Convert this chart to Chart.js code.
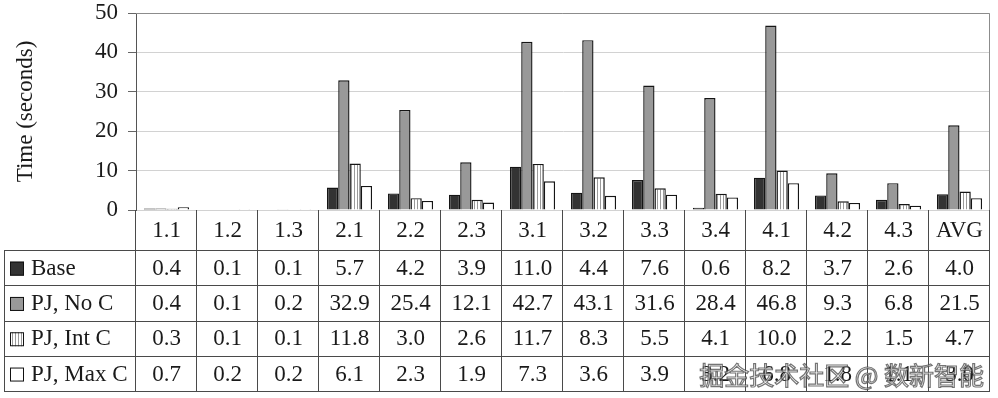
<!DOCTYPE html>
<html>
<head>
<meta charset="utf-8">
<script src="https://cdn.jsdelivr.net/npm/chart.js@4/dist/chart.umd.min.js"></script>
<style>
  html, body { margin: 0; padding: 0; background: #fff; }
  #wrap { width: 998px; height: 398px; position: relative; }
</style>
</head>
<body>
<div id="wrap"><canvas id="chart" width="998" height="398"></canvas></div>
<script>
// categories and series values (seconds)
const categories = ['1.1', '1.2', '1.3', '2.1', '2.2', '2.3', '3.1', '3.2', '3.3', '3.4', '4.1', '4.2', '4.3', 'AVG'];
const seriesNames = ['Base', 'PJ, No C', 'PJ, Int C', 'PJ, Max C'];
const baseTimes = [0.4, 0.1, 0.1, 5.7, 4.2, 3.9, 11.0, 4.4, 7.6, 0.6, 8.2, 3.7, 2.6, 4.0];
const noCTimes = [0.4, 0.1, 0.2, 32.9, 25.4, 12.1, 42.7, 43.1, 31.6, 28.4, 46.8, 9.3, 6.8, 21.5];
const intCTimes = [0.3, 0.1, 0.1, 11.8, 3.0, 2.6, 11.7, 8.3, 5.5, 4.1, 10.0, 2.2, 1.5, 4.7];
const maxCTimes = [0.7, 0.2, 0.2, 6.1, 2.3, 1.9, 7.3, 3.6, 3.9, 3.2, 6.8, 1.8, 1.1, 3.0];
const yTicks = [0, 10, 20, 30, 40, 50];

const SERIF = '"Liberation Serif", "Times New Roman", serif';
const TEXT = '#1a1a1a';

// vertical stripe pattern for "Int C"
function stripePattern() {
    const c = document.createElement('canvas');
    c.width = 3; c.height = 4;
    const g = c.getContext('2d');
    g.fillStyle = '#ffffff';
    g.fillRect(0, 0, 3, 4);
    g.fillStyle = '#9a9a9a';
    g.fillRect(0, 0, 1, 4);
    return g.createPattern(c, 'repeat');
}

const fills = ['#333333', '#999999', stripePattern(), '#ffffff'];
const allSeries = [baseTimes, noCTimes, intCTimes, maxCTimes];

// table geometry below the plot
const CAT_ROW_H = 40;
const DATA_ROW_H = 35.3;
const TABLE_LEFT = 4;

const tablePlugin = {
    id: 'dataTable',
    afterDraw(chart) {
        const ctx = chart.ctx;
        const a = chart.chartArea;
        const x = chart.scales.x;
        const n = categories.length;
        const colW = (a.right - a.left) / n;
        const top = a.bottom;
        const dataTop = top + CAT_ROW_H;
        const bottom = dataTop + DATA_ROW_H * seriesNames.length;

        ctx.save();
        // plot frame (top and right)
        ctx.strokeStyle = '#8c8c8c';
        ctx.lineWidth = 1;
        ctx.beginPath();
        ctx.moveTo(a.left, a.top + 0.5);
        ctx.lineTo(a.right - 0.5, a.top + 0.5);
        ctx.lineTo(a.right - 0.5, a.bottom);
        ctx.stroke();

        // table lines
        ctx.strokeStyle = '#4a4a4a';
        ctx.beginPath();
        for (let i = 0; i <= n; i++) {
            const px = Math.round(a.left + i * colW) - 0.5;
            ctx.moveTo(px, top);
            ctx.lineTo(px, bottom);
        }
        for (let r = 0; r <= seriesNames.length; r++) {
            const py = Math.round(dataTop + r * DATA_ROW_H) + 0.5;
            ctx.moveTo(TABLE_LEFT, py);
            ctx.lineTo(a.right, py);
        }
        ctx.moveTo(TABLE_LEFT + 0.5, dataTop);
        ctx.lineTo(TABLE_LEFT + 0.5, bottom);
        ctx.stroke();

        // category labels
        ctx.fillStyle = TEXT;
        ctx.font = '23px ' + SERIF;
        ctx.textAlign = 'center';
        ctx.textBaseline = 'middle';
        categories.forEach((c, i) => {
            ctx.fillText(c, x.getPixelForValue(i), top + CAT_ROW_H / 2 + 1);
        });

        // data rows with legend keys
        seriesNames.forEach((name, r) => {
            const cy = dataTop + r * DATA_ROW_H + DATA_ROW_H / 2 + 1;
            ctx.fillStyle = fills[r];
            ctx.fillRect(TABLE_LEFT + 6, cy - 7, 14, 14);
            ctx.strokeStyle = '#111';
            ctx.lineWidth = 1;
            ctx.strokeRect(TABLE_LEFT + 6.5, cy - 6.5, 13, 13);
            ctx.fillStyle = TEXT;
            ctx.textAlign = 'left';
            ctx.fillText(name, TABLE_LEFT + 27, cy);
            ctx.textAlign = 'center';
            allSeries[r].forEach((v, i) => {
                ctx.fillText(v.toFixed(1), x.getPixelForValue(i), cy);
            });
        });

        // watermark
        ctx.font = '25px "Noto Sans CJK SC", sans-serif';
        ctx.textAlign = 'right';
        ctx.textBaseline = 'middle';
        ctx.lineWidth = 1.2;
        ctx.strokeStyle = 'rgba(70,70,70,0.75)';
        ctx.fillStyle = 'rgba(255,255,255,0.6)';
        ctx.fillText('掘金技术社区 @ 数新智能', 984, 375);
        ctx.strokeText('掘金技术社区 @ 数新智能', 984, 375);
        ctx.restore();
    }
};

const datasets = seriesNames.map((name, i) => ({
    label: name,
    data: allSeries[i],
    backgroundColor: fills[i],
    borderColor: '#151515',
    borderWidth: 1.4,
    borderSkipped: 'bottom',
    barPercentage: 1.0,
    categoryPercentage: 0.74
}));

new Chart(document.getElementById('chart'), {
    type: 'bar',
    data: { labels: categories, datasets: datasets },
    options: {
        responsive: false,
        animation: false,
        layout: { padding: { top: 13, right: 8, bottom: 188, left: 0 } },
        plugins: {
            legend: { display: false },
            tooltip: { enabled: false }
        },
        scales: {
            x: { display: false, offset: true },
            y: {
                min: 0,
                max: 50,
                afterBuildTicks: (axis) => { axis.ticks = yTicks.map(v => ({ value: v })); },
                afterFit: (axis) => {
                    axis.width = 136;
                    axis.paddingTop = 0;
                    axis.paddingBottom = 0;
                },
                ticks: {
                    color: TEXT,
                    font: { family: SERIF, size: 23 },
                    padding: 10
                },
                grid: {
                    color: '#d2d2d2',
                    tickLength: 8,
                    tickColor: '#666'
                },
                border: { color: '#555', width: 1 },
                title: {
                    display: true,
                    text: 'Time (seconds)',
                    color: TEXT,
                    font: { family: SERIF, size: 23 },
                    padding: { top: 12, bottom: 0 }
                }
            }
        }
    },
    plugins: [tablePlugin]
});
</script>
</body>
</html>
